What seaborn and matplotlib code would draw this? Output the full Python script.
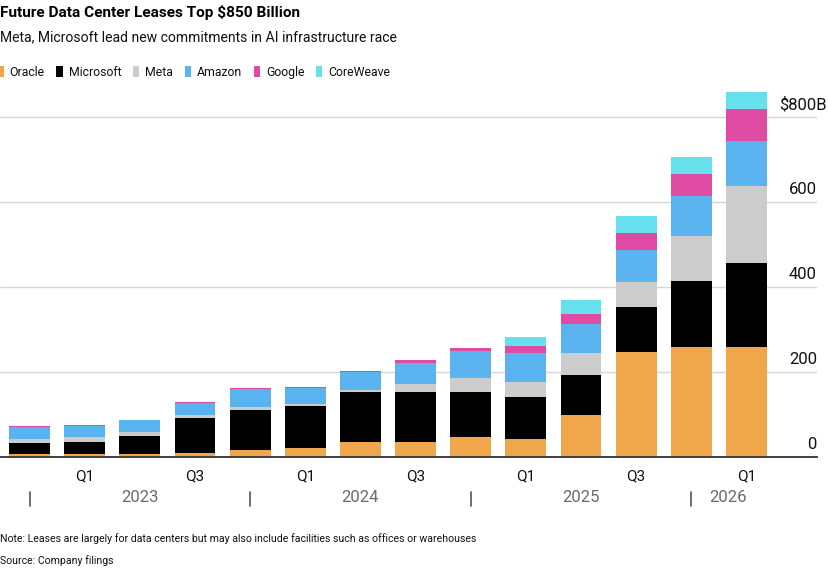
import numpy as np
import pandas as pd
import seaborn as sns
import matplotlib.pyplot as plt
from matplotlib.patches import Patch
from matplotlib import font_manager
from matplotlib.transforms import offset_copy

# values in $B (Q4 2022 .. Q1 2026)
companies = ['Oracle', 'Microsoft', 'Meta', 'Amazon', 'Google', 'CoreWeave']
oracle =    [8, 8, 8, 10, 17, 22, 35, 35, 48, 42, 100, 248, 260, 259]
microsoft = [25, 27, 41, 82, 93, 97, 117, 117, 106, 100, 92, 106, 155, 197]
meta =      [9, 11, 11, 8, 8, 5, 5, 19, 33, 34, 52, 57, 104, 182]
amazon =    [28, 28, 26, 28, 41, 38, 42, 50, 62, 68, 69, 76, 96, 106]
google =    [3, 2, 2, 2, 2.5, 2.5, 3.5, 7, 7, 18, 23, 41, 52, 75]
coreweave = [0, 0, 0, 0, 0, 0, 0, 0, 0, 20, 34, 39, 39, 40]

qtr_labels = ['', 'Q1', '', 'Q3', '', 'Q1', '', 'Q3', '', 'Q1', '', 'Q3', '', 'Q1']
year_labels = ['2023', '2024', '2025', '2026']
year_pos = [2, 6, 10, 12.67]
year_seps = [0, 4, 8, 12]
y_ticks = [0, 200, 400, 600, 800]
y_labels = ['0', '200', '400', '600', '$800B']

colors = {'Oracle': '#F0A64A', 'Microsoft': '#000000', 'Meta': '#CCCCCC',
          'Amazon': '#5AB3EF', 'Google': '#DF4AA2', 'CoreWeave': '#66E0EC'}

series = [oracle, microsoft, meta, amazon, google, coreweave]
rows = []
for name, vals in zip(companies, series):
    for i, v in enumerate(vals):
        rows.append({'idx': i, 'company': name, 'value': v})
df = pd.DataFrame(rows)

sns.set_style('white')
names = {f.name for f in font_manager.fontManager.ttflist}
main_font = 'Roboto' if 'Roboto' in names else 'Liberation Sans'
plt.rcParams['font.family'] = [main_font, 'DejaVu Sans']

W, H = 829, 574
fig = plt.figure(figsize=(W / 100, H / 100), dpi=100)
ppu = 340 / 800  # px per $B
ytop = 870
ax = fig.add_axes([0, (H - 457) / H, 817 / W, ytop * ppu / H])

# seaborn stacks the first hue level on top, so give it reversed
sns.histplot(data=df, x='idx', weights='value', hue='company',
             hue_order=companies[::-1], multiple='stack', discrete=True,
             shrink=0.74, palette=colors, alpha=1, linewidth=0,
             legend=False, ax=ax)

ax.set_xlim(-0.535, -0.535 + 817 / 55.15)
ax.set_ylim(0, ytop)
ax.set_xlabel('')
ax.set_ylabel('')
ax.set_yticks(y_ticks)
ax.tick_params(axis='y', length=0, labelleft=False)
ax.yaxis.grid(True, color='#d6d6d6', lw=1)
ax.xaxis.grid(False)
ax.set_axisbelow(True)
for s in ['top', 'right', 'left']:
    ax.spines[s].set_visible(False)
ax.spines['bottom'].set_color('#333333')
ax.spines['bottom'].set_linewidth(1.3)

ax.set_xticks(range(len(qtr_labels)))
ax.set_xticklabels(qtr_labels)
ax.tick_params(axis='x', length=6, width=1, color='#333333', labelsize=11,
               pad=3, labelcolor='#111111')

# y labels sit above the gridlines on the right
for v, lab in zip(y_ticks, y_labels):
    dx = 10 if lab.endswith('B') else 0
    tr = offset_copy(ax.get_yaxis_transform(), fig=fig, x=dx, y=8, units='dots')
    ax.text(1.0, v, lab, transform=tr, ha='right', va='baseline',
            fontsize=12, color='#111111')

# year row
xt = ax.get_xaxis_transform()
for x in year_seps:
    ax.plot([x, x], [(457 - 492) / (ytop * ppu), (457 - 506) / (ytop * ppu)],
            transform=xt, color='#555555', lw=1.2, clip_on=False)
for x, lab in zip(year_pos, year_labels):
    ax.text(x, (457 - 497) / (ytop * ppu), lab, transform=xt, ha='center',
            va='center', fontsize=12, color='#6a6a6a')

def ftext(x, y, s, **kw):
    fig.text(x / W, 1 - y / H, s, **kw)

ftext(0, 16.7, 'Future Data Center Leases Top $850 Billion', fontsize=11.1,
      fontweight='bold', va='baseline', color='#000000')
ftext(0, 41.7, 'Meta, Microsoft lead new commitments in AI infrastructure race',
      fontsize=10.1, va='baseline', color='#111111')
ftext(0, 541.7, 'Note: Leases are largely for data centers but may also include '
      'facilities such as offices or warehouses', fontsize=7.6, va='baseline',
      color='#111111')
ftext(0, 564, 'Source: Company filings', fontsize=7.6, va='baseline', color='#111111')

handles = [Patch(facecolor=colors[c], edgecolor='none', label=c) for c in companies]
fig.legend(handles=handles, ncol=6, loc='center left', bbox_to_anchor=(-0.003, 1 - 72.5 / H),
           frameon=False, fontsize=8.8, handlelength=0.5, handleheight=1.0,
           handletextpad=0.5, columnspacing=0.95, borderpad=0, borderaxespad=0,
           labelcolor='#111111')

fig.savefig('out.png', dpi=100)
